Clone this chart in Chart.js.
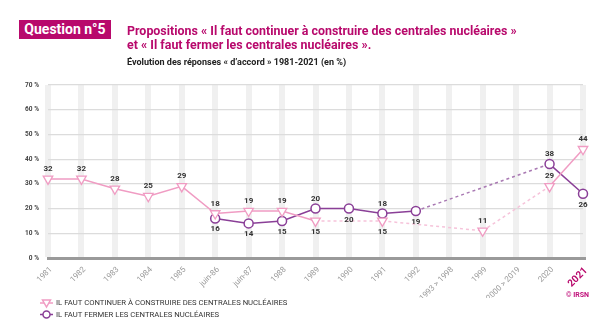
<!DOCTYPE html>
<html>
<head>
<meta charset="utf-8">
<script src="https://cdn.jsdelivr.net/npm/chart.js@4.4.1/dist/chart.umd.min.js"></script>
<style>
	html, body { margin: 0; padding: 0; background: #fff; }
	#wrap { position: relative; width: 605px; height: 331px; overflow: hidden; font-family: Roboto, "Liberation Sans", sans-serif; }
	#chart { position: absolute; left: 0; top: 0; }
	.badge { position: absolute; left: 19px; top: 20px; width: 92px; height: 19px; background: #b8096c; color: #fff; font-weight: bold; font-size: 14px; line-height: 19px; text-align: center; }
	.title { position: absolute; left: 127px; top: 23px; color: #b8096c; font-weight: bold; font-size: 13.5px; line-height: 14px; white-space: nowrap; transform-origin: 0 0; transform: scaleX(0.92); }
	.subtitle { position: absolute; left: 127px; top: 56px; color: #222; font-weight: bold; font-size: 9.5px; white-space: nowrap; transform-origin: 0 0; transform: scaleX(0.95); }
	.copy { position: absolute; left: 566px; top: 291px; color: #c0107a; font-weight: bold; font-size: 7px; white-space: nowrap; }
</style>
</head>
<body>
<div id="wrap">
	<canvas id="chart" width="605" height="331"></canvas>
	<div class="badge">Question n°5</div>
	<div class="title">Propositions « Il faut continuer à construire des centrales nucléaires »<br>et « Il faut fermer les centrales nucléaires ».</div>
	<div class="subtitle">Évolution des réponses « d’accord » 1981-2021 (en %)</div>
	<div class="copy">© IRSN</div>
</div>
<script>

var periods = ["1981", "1982", "1983", "1984", "1985", "juin-86", "juin-87", "1988", "1989", "1990", "1991", "1992", "1993 > 1998", "1999", "2000 > 2019", "2020", "2021"];

var continuer = [32, 32, 28, 25, 29, 18, 19, 19, 15, null, 15, null, null, 11, null, 29, 44];
var fermer = [null, null, null, null, null, 16, 14, 15, 20, 20, 18, 19, null, null, null, 38, 26];

// where each value label sits relative to its point
var continuerLabelSide = ["up", "up", "up", "up", "up", "up", "up", "up", "down", null, "down", null, null, "up", null, "up", "up"];
var fermerLabelSide = [null, null, null, null, null, "down", "down", "down", "up", "down", "up", "down", null, null, null, "up", "down"];

var yTicks = [0, 10, 20, 30, 40, 50, 60, 70];

var legendNames = ["IL FAUT CONTINUER À CONSTRUIRE DES CENTRALES NUCLÉAIRES", "IL FAUT FERMER LES CENTRALES NUCLÉAIRES"];

var PINK = "#f09cc3", PINK_LIGHT = "#f6c3da";
var PURPLE = "#8a3f97", PURPLE_LIGHT = "#a979b3";
var MAGENTA = "#b8096c";

// a segment that jumps over missing years is dashed and lighter
// (p0DataIndex is always p1DataIndex - 1, so a null there means a skipped gap)
function gapStyle(values, light, normal) {
	function isGap(c) { return values[c.p0DataIndex] === null; }
	return {
		borderColor : function(c) { return isGap(c) ? light : normal; },
		borderDash : function(c) { return isGap(c) ? [3, 3] : undefined; }
	};
}

var valueLabels = {
	id : "valueLabels",
	afterDatasetsDraw : function(chart) {
		var ctx = chart.ctx;
		var sides = [continuerLabelSide, fermerLabelSide];
		ctx.save();
		ctx.font = "bold 8px Roboto";
		ctx.fillStyle = "#333";
		ctx.textAlign = "center";
		ctx.textBaseline = "middle";
		chart.data.datasets.forEach(function(ds, i) {
			var meta = chart.getDatasetMeta(i);
			meta.data.forEach(function(pt, j) {
				var v = ds.data[j];
				if (v === null || !sides[i][j]) return;
				var dy = sides[i][j] === "up" ? -10 : 11;
				ctx.fillText(String(v), pt.x, pt.y + dy);
			});
		});
		ctx.restore();
	}
};

var customLegend = {
	id : "customLegend",
	afterDraw : function(chart) {
		var ctx = chart.ctx;
		ctx.save();
		chart.data.datasets.forEach(function(ds, i) {
			var y = 303 + i * 11.5;
			var x0 = 40, x1 = 53, xm = 46.5;
			ctx.strokeStyle = ds.borderColor;
			ctx.lineWidth = 1.5;
			ctx.beginPath();
			ctx.moveTo(x0, y);
			ctx.lineTo(x1, y);
			ctx.stroke();
			ctx.fillStyle = "#fff";
			ctx.beginPath();
			if (ds.pointStyle === "triangle") {
				ctx.moveTo(xm - 4, y - 3);
				ctx.lineTo(xm + 4, y - 3);
				ctx.lineTo(xm, y + 4);
				ctx.closePath();
			} else {
				ctx.arc(xm, y, 3.5, 0, Math.PI * 2);
			}
			ctx.fill();
			ctx.stroke();
			ctx.fillStyle = "#333";
			ctx.font = "7.7px Roboto";
			ctx.textBaseline = "middle";
			ctx.fillText(legendNames[i], 56, y + 0.5);
		});
		ctx.restore();
	}
};

var ctx = document.getElementById("chart");

var chart = new Chart(ctx, {
	type : "line",
	data : {
		labels : periods,
		datasets : [
			{
				label : legendNames[0],
				data : continuer,
				borderColor : PINK,
				backgroundColor : "#fff",
				borderWidth : 1.5,
				pointStyle : "triangle",
				rotation : 180,
				pointRadius : 5.5,
				pointBorderWidth : 1.3,
				spanGaps : true,
				tension : 0,
				segment : gapStyle(continuer, PINK_LIGHT, PINK)
			},
			{
				label : legendNames[1],
				data : fermer,
				borderColor : PURPLE,
				backgroundColor : "#fff",
				borderWidth : 1.5,
				pointStyle : "circle",
				pointRadius : 4.5,
				pointBorderWidth : 1.5,
				spanGaps : true,
				tension : 0,
				segment : gapStyle(fermer, PURPLE_LIGHT, PURPLE)
			}
		]
	},
	options : {
		responsive : false,
		animation : false,
		layout : { padding : { top : 85, right : 22, bottom : 33, left : 0 } },
		plugins : {
			legend : { display : false },
			tooltip : { enabled : false }
		},
		scales : {
			x : {
				offset : false,
				grid : { color : "#f0f0f0", lineWidth : 6, drawTicks : false, offset : false },
				border : { color : "#9a9a9a", width : 3 },
				ticks : {
					autoSkip : false,
					minRotation : 45,
					maxRotation : 45,
					padding : 7,
					labelOffset : 3,
					color : function(c) { return c.index === periods.length - 1 ? MAGENTA : "#999"; },
					font : function(c) {
						return c.index === periods.length - 1
							? { family : "Roboto", size : 10, weight : "bold" }
							: { family : "Roboto", size : 8 };
					}
				},
				afterFit : function(scale) { scale.height = 40; }
			},
			y : {
				min : 0,
				max : 70,
				afterBuildTicks : function(scale) {
					scale.ticks = yTicks.map(function(v) { return { value : v }; });
				},
				grid : { color : "#dcdcdc", lineWidth : 1.2, drawTicks : false },
				border : { display : false },
				ticks : {
					padding : 9,
					color : "#444",
					font : { family : "Roboto", size : 6.5, weight : "bold" },
					callback : function(v) { return v + " %"; }
				},
				afterFit : function(scale) { scale.width = 48; }
			}
		}
	},
	plugins : [valueLabels, customLegend]
});

</script>
</body>
</html>
